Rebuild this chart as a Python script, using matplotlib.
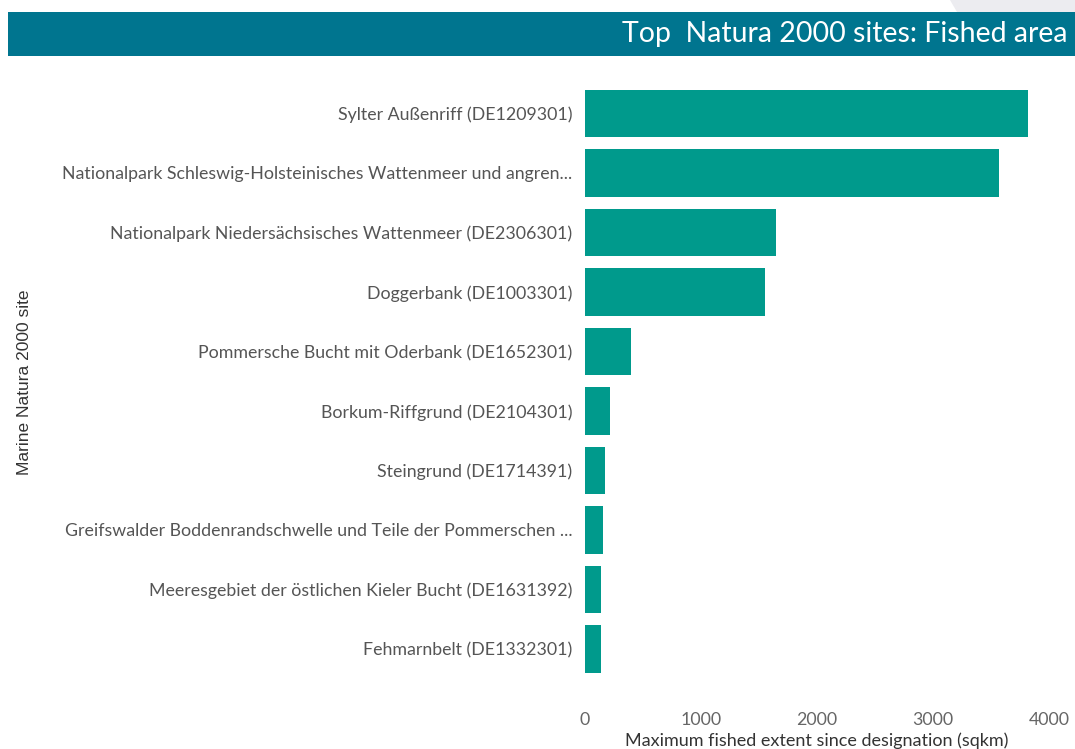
import matplotlib
matplotlib.use("Agg")
import matplotlib.pyplot as plt
from matplotlib.patches import Rectangle, Polygon

sites = [
    "Sylter Außenriff (DE1209301)",
    "Nationalpark Schleswig-Holsteinisches Wattenmeer und angren...",
    "Nationalpark Niedersächsisches Wattenmeer (DE2306301)",
    "Doggerbank (DE1003301)",
    "Pommersche Bucht mit Oderbank (DE1652301)",
    "Borkum-Riffgrund (DE2104301)",
    "Steingrund (DE1714391)",
    "Greifswalder Boddenrandschwelle und Teile der Pommerschen ...",
    "Meeresgebiet der östlichen Kieler Bucht (DE1631392)",
    "Fehmarnbelt (DE1332301)",
]
fished_area = [3820, 3570, 1648, 1553, 395, 214, 171, 151, 140, 136]
x_ticks = [0, 1000, 2000, 3000, 4000]

W, H = 1075, 749
FONT = ["Lato", "DejaVu Sans"]
fig = plt.figure(figsize=(W / 100, H / 100), dpi=100)
fig.patch.set_facecolor("white")

# decorative slide shapes
fig.add_artist(Polygon([(950 / W, 1), (1, 1), (1, 1 - 12 / H), (957 / W, 1 - 12 / H)],
                       closed=True, transform=fig.transFigure, facecolor="#ececf0",
                       edgecolor="none", zorder=0))
# title bar
fig.add_artist(Rectangle((8 / W, 1 - 56 / H), 1 - 8 / W, 44 / H, transform=fig.transFigure,
                         facecolor="#00758f", edgecolor="none", zorder=1))
fig.text(1068 / W, 1 - 34 / H, "Top  Natura 2000 sites: Fished area", ha="right", va="center",
         color="white", fontsize=20.5, family=FONT, zorder=2)

left, right = 585 / W, 1049 / W
top_px, bot_px = 83.75, 678.75
ax = fig.add_axes([left, 1 - bot_px / H, right - left, (bot_px - top_px) / H])

ypos = list(range(len(sites)))
ax.barh(ypos, fished_area, height=0.79, color="#009a8c", edgecolor="none")
ax.set_ylim(len(sites) - 0.5, -0.5)
ax.set_xlim(0, 4000)
ax.set_yticks(ypos)
ax.set_yticklabels(sites, family=FONT, fontsize=12.8, color="#555555")
ax.set_xticks(x_ticks)
ax.set_xticklabels([str(t) for t in x_ticks], family=FONT, fontsize=12.8, color="#666666")
ax.tick_params(axis="y", length=0, pad=9)
ax.tick_params(axis="x", length=0, pad=24)
for s in ax.spines.values():
    s.set_visible(False)

fig.text(817 / W, 1 - 741 / H, "Maximum fished extent since designation (sqkm)", ha="center",
         va="center", family=FONT, fontsize=13, color="#333333")
fig.text(25 / W, 1 - 382 / H, "Marine Natura 2000 site", rotation=90, ha="center", va="center",
         family=["Liberation Sans", "DejaVu Sans"], fontsize=12.5, color="#333333")

fig.savefig("out.png", dpi=100, facecolor="white")
